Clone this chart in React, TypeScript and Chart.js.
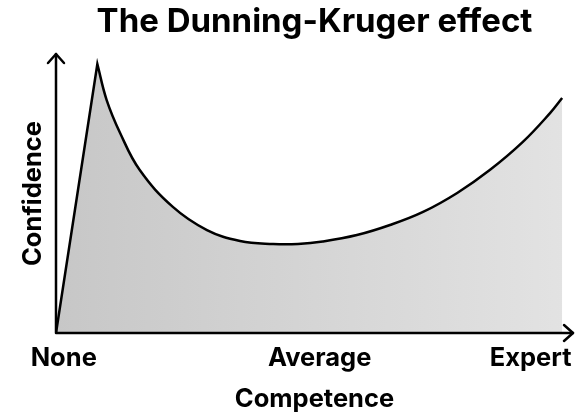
import React, { useEffect, useRef } from "react";
import { Chart, registerables } from "chart.js";

Chart.register(...registerables);

const TITLE = "The Dunning-Kruger effect";
const X_TITLE = "Competence";
const Y_TITLE = "Confidence";

// Competence (x, % of axis) and confidence (y, % of axis).
// The peak is listed twice so the straight rise meets the curve in a sharp cusp.
const competence = [0, 8.0, 8.0, 9.8, 12.4, 16.2, 22.6, 29.2, 35.6, 42.0, 46.8, 51.6, 58.2, 64.6, 71.0, 77.6, 83.9, 90.3, 95.6, 97.9];
const confidence = [0, 96.4, 96.4, 83.5, 71.7, 58.4, 45.2, 36.9, 33.0, 31.9, 31.9, 32.8, 35.1, 38.7, 43.4, 50.2, 58.4, 68.5, 78.9, 84.2];

// Tick labels on the competence axis
const tickValues = [1.5, 51, 91.8];
const tickLabels = ["None", "Average", "Expert"];

const FONT = "Inter";

function gradientFill(ctx: any) {
  const chart = ctx.chart;
  const ca = chart.chartArea;
  if (!ca) return "#d4d4d4";
  const g = chart.ctx.createLinearGradient(ca.left, 0, ca.right, 0);
  g.addColorStop(0, "#c7c7c7");
  g.addColorStop(1, "#e3e3e3");
  return g;
}

const axesArrows = {
  id: "axesArrows",
  afterDatasetsDraw(chart: any) {
    const { ctx, chartArea } = chart;
    const { left, right, top, bottom } = chartArea;
    ctx.save();
    ctx.strokeStyle = "#000";
    ctx.lineWidth = 2.5;
    ctx.lineCap = "round";
    ctx.lineJoin = "round";
    ctx.beginPath();
    ctx.moveTo(left, top);
    ctx.lineTo(left, bottom);
    ctx.lineTo(right, bottom);
    ctx.stroke();
    ctx.beginPath();
    ctx.moveTo(left - 8, top + 9);
    ctx.lineTo(left, top);
    ctx.lineTo(left + 8, top + 9);
    ctx.stroke();
    ctx.beginPath();
    ctx.moveTo(right - 9, bottom - 8);
    ctx.lineTo(right, bottom);
    ctx.lineTo(right - 9, bottom + 8);
    ctx.stroke();
    ctx.restore();
  },
};

export default function App() {
  const ref = useRef<HTMLCanvasElement>(null);

  useEffect(() => {
    document.body.style.margin = "0";
    if (!ref.current) return;
    const chart = new Chart(ref.current, {
      type: "line",
      data: {
        datasets: [
          {
            data: competence.map((x, i) => ({ x, y: confidence[i] })),
            borderColor: "#000",
            borderWidth: 2.5,
            backgroundColor: gradientFill,
            fill: "origin",
            tension: 0.4,
            pointRadius: 0,
          },
        ],
      },
      options: {
        animation: false,
        responsive: true,
        maintainAspectRatio: false,
        devicePixelRatio: 1,
        layout: { padding: { left: 0, right: 2, top: 0, bottom: 0 }, autoPadding: false },
        plugins: {
          legend: { display: false },
          tooltip: { enabled: false },
          title: {
            display: true,
            text: TITLE,
            fullSize: false,
            color: "#000",
            font: { family: FONT, size: 33, weight: "700" },
            padding: { top: 2, bottom: 12.4 },
          },
        },
        scales: {
          x: {
            type: "linear",
            min: 0,
            max: 100,
            grid: { display: false, drawTicks: false },
            border: { display: false },
            afterBuildTicks: (scale: any) => {
              scale.ticks = tickValues.map((v) => ({ value: v }));
            },
            afterFit: (scale: any) => {
              scale.height = 85;
              scale.paddingLeft = 0;
              scale.paddingRight = 0;
            },
            ticks: {
              autoSkip: false,
              maxRotation: 0,
              padding: 9.7,
              color: "#000",
              font: { family: FONT, size: 25.5, weight: "700" },
              callback: (_v: any, i: number) => tickLabels[i],
            },
            title: {
              display: true,
              text: X_TITLE,
              color: "#000",
              font: { family: FONT, size: 25.5, weight: "700" },
              padding: { top: 0, bottom: 3.7 },
            },
          },
          y: {
            type: "linear",
            min: 0,
            max: 100,
            grid: { display: false, drawTicks: false },
            border: { display: false },
            ticks: { display: false },
            afterFit: (scale: any) => {
              scale.width = 56;
              scale.paddingTop = 0;
              scale.paddingBottom = 0;
            },
            title: {
              display: true,
              text: Y_TITLE,
              color: "#000",
              font: { family: FONT, size: 25.5, weight: "700" },
              padding: { top: 18, bottom: 0 },
            },
          },
        },
      },
      plugins: [axesArrows],
    });
    return () => chart.destroy();
  }, []);

  return (
    <div style={{ position: "relative", width: 575, height: 418 }}>
      <canvas ref={ref} />
    </div>
  );
}
